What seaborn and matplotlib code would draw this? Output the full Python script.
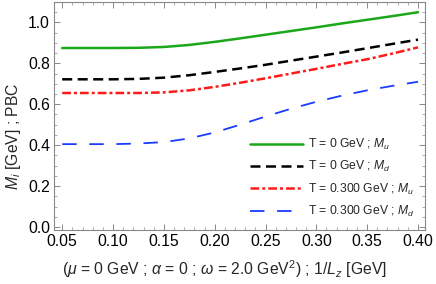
import numpy as np
import pandas as pd
import matplotlib
matplotlib.use('Agg')
import matplotlib.pyplot as plt
import seaborn as sns
from matplotlib.ticker import MultipleLocator

inv_lz = [0.05, 0.075, 0.10, 0.125, 0.15, 0.175, 0.20, 0.225, 0.25, 0.275, 0.30, 0.325, 0.35, 0.375, 0.40]
mu_T0 = [0.875, 0.875, 0.875, 0.876, 0.880, 0.890, 0.905, 0.922, 0.940, 0.958, 0.976, 0.995, 1.013, 1.031, 1.050]
md_T0 = [0.722, 0.722, 0.722, 0.724, 0.730, 0.742, 0.758, 0.775, 0.793, 0.813, 0.833, 0.853, 0.874, 0.895, 0.916]
mu_T300 = [0.655, 0.655, 0.655, 0.655, 0.658, 0.668, 0.685, 0.705, 0.727, 0.750, 0.773, 0.797, 0.820, 0.848, 0.878]
md_T300 = [0.405, 0.405, 0.405, 0.408, 0.415, 0.433, 0.462, 0.500, 0.540, 0.578, 0.612, 0.642, 0.668, 0.690, 0.710]

labels = ['T = 0 GeV ; $M_u$', 'T = 0 GeV ; $M_d$',
          'T = 0.300 GeV ; $M_u$', 'T = 0.300 GeV ; $M_d$']

sns.set_style('ticks')
plt.rcParams['font.family'] = ['Liberation Sans', 'DejaVu Sans']
plt.rcParams['mathtext.fontset'] = 'custom'
plt.rcParams['mathtext.rm'] = 'Liberation Sans'
plt.rcParams['mathtext.it'] = 'Liberation Sans:italic'

fig = plt.figure(figsize=(4.36, 2.84), dpi=100)
ax = fig.add_axes([0.124, 0.190, 0.851, 0.803])

styles = [
    dict(color='#1aa81a', lw=1.8, ls='-'),
    dict(color='black', lw=1.8, ls=(0, (4, 2.2))),
    dict(color='#ff1a1a', lw=1.8, ls=(0, (3.5, 1.2, 1.2, 1.2))),
    dict(color='#1a3cff', lw=1.3, ls=(0, (8, 7))),
]
for ys, lab, st in zip([mu_T0, md_T0, mu_T300, md_T300], labels, styles):
    sns.lineplot(x=inv_lz, y=ys, ax=ax, label=lab, color=st['color'],
                 linewidth=st['lw'], linestyle=st['ls'])

ax.set_xlim(0.042, 0.407)
ax.set_ylim(-0.015, 1.10)
ax.xaxis.set_major_locator(MultipleLocator(0.05))
ax.xaxis.set_minor_locator(MultipleLocator(0.01))
ax.yaxis.set_major_locator(MultipleLocator(0.2))
ax.yaxis.set_minor_locator(MultipleLocator(0.05))
ax.xaxis.set_major_formatter(plt.FormatStrFormatter('%.2f'))
ax.yaxis.set_major_formatter(plt.FormatStrFormatter('%.1f'))
ax.tick_params(which='both', direction='in', top=True, right=True,
               color='#888888', labelsize=11.3, labelcolor='black')
ax.tick_params(which='major', length=4, width=0.7, pad=3)
ax.tick_params(which='minor', length=2, width=0.5)
for sp in ax.spines.values():
    sp.set_color('#888888')
    sp.set_linewidth(0.8)

ax.set_xlabel(r'($\mu$ = 0 GeV ; $\alpha$ = 0 ; $\omega$ = 2.0 GeV$^2$) ; 1/$L_z$ [GeV]',
              fontsize=11.3)
ax.set_ylabel('$M_i$ [GeV] ; PBC', fontsize=11.3)
ax.xaxis.set_label_coords(0.46, -0.125)
ax.yaxis.set_label_coords(-0.085, 0.41)

ax.legend(loc='lower right', bbox_to_anchor=(1.0, 0.0), frameon=False,
          fontsize=8.7, handlelength=4.4, handletextpad=0.4, labelspacing=0.6)

fig.savefig('out.png', dpi=100)
